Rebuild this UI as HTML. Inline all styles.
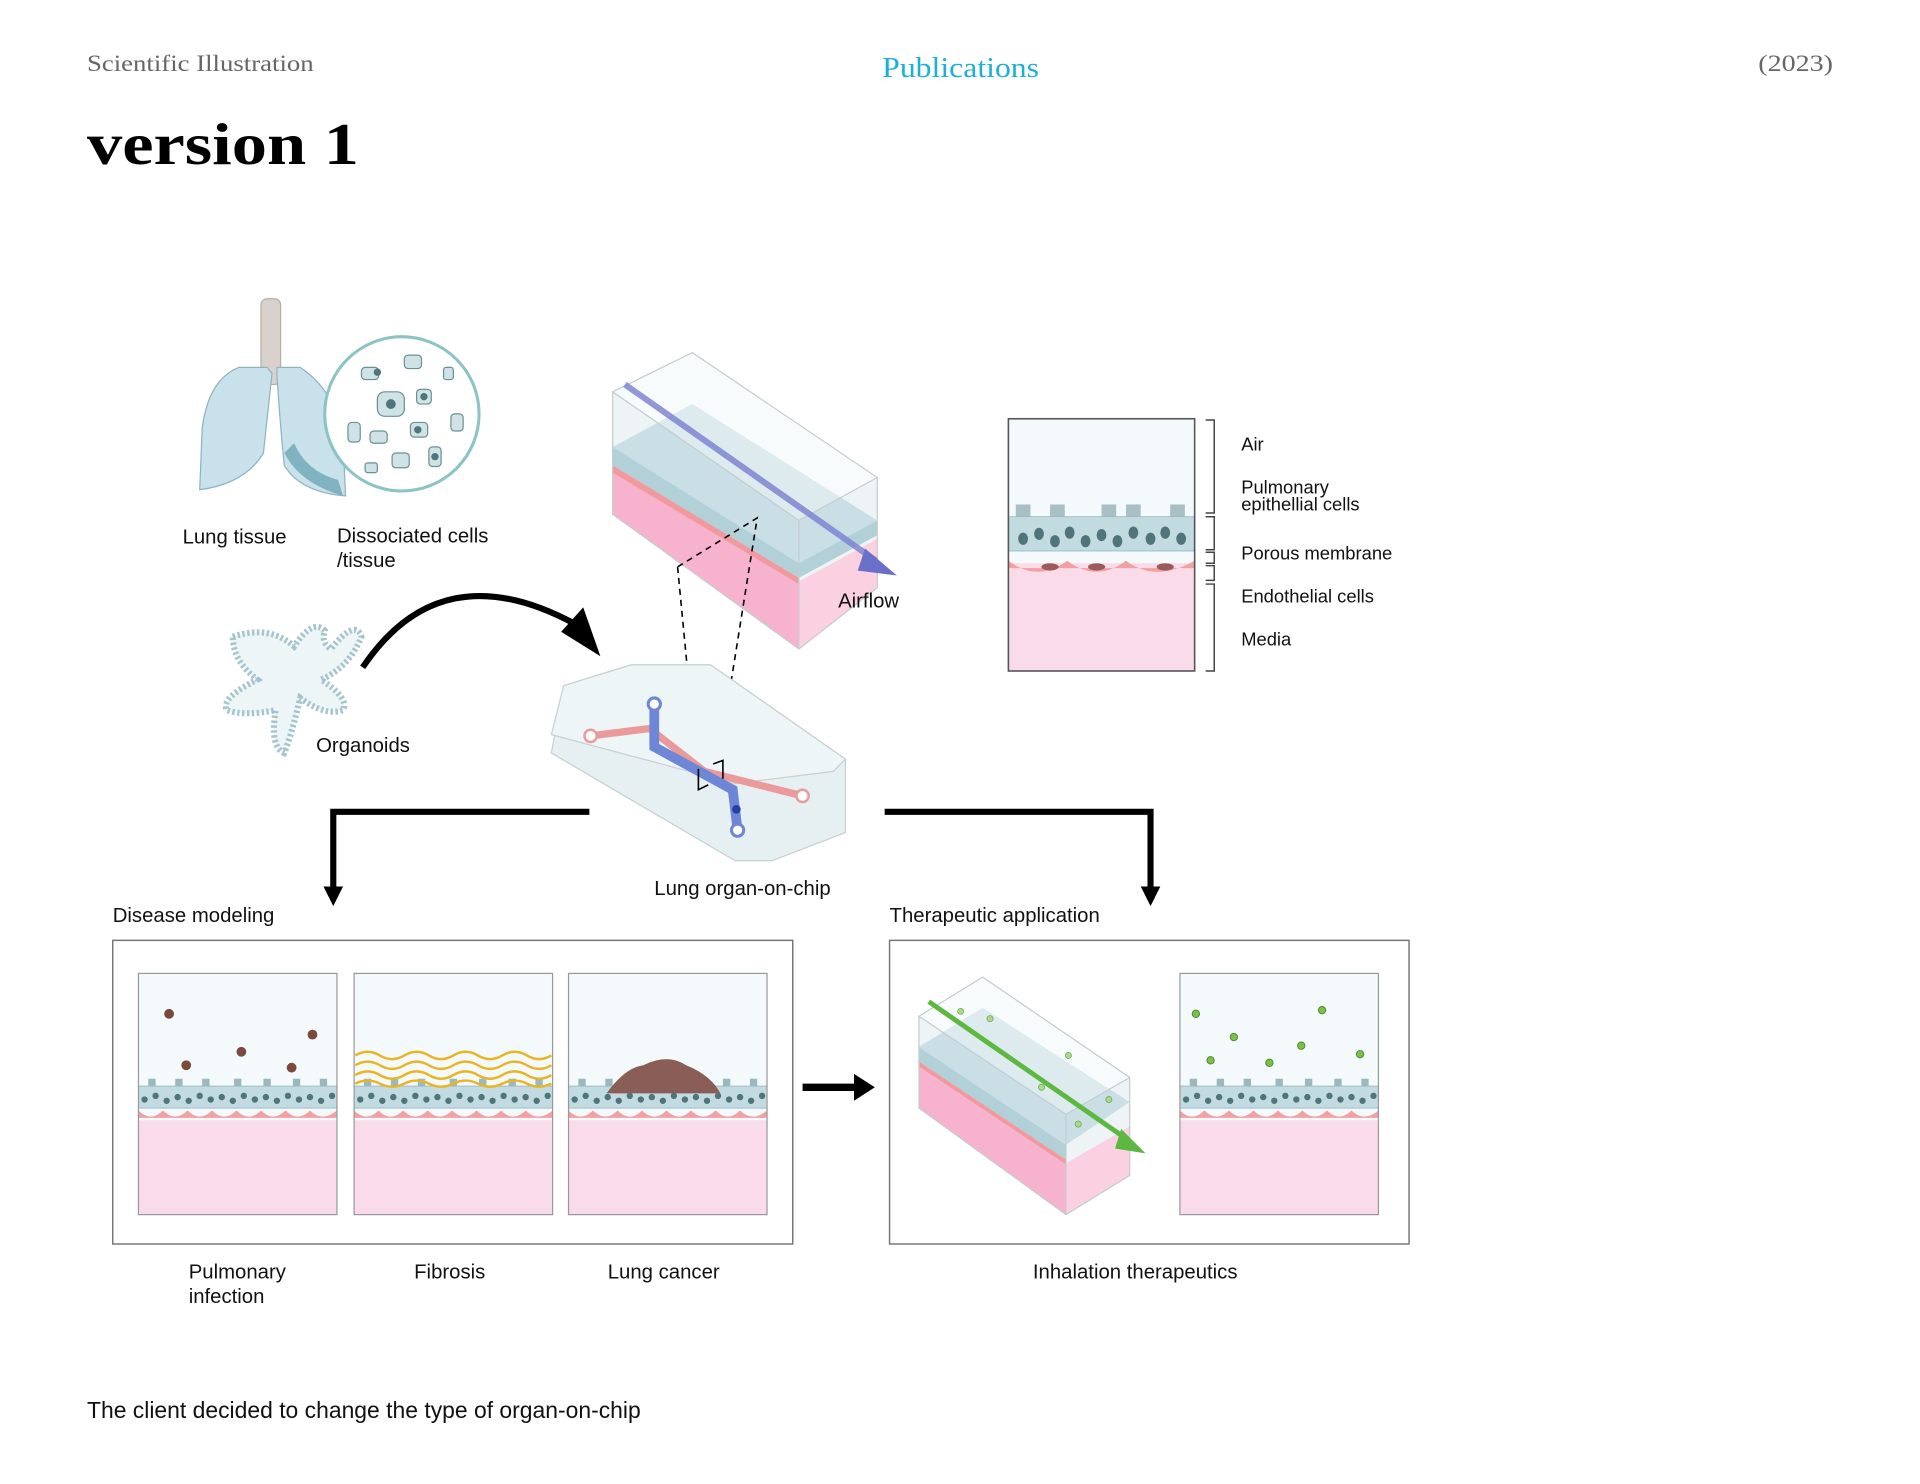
<!DOCTYPE html>
<html><head><meta charset="utf-8"><style>
html,body{margin:0;padding:0;background:#fff;}
svg{display:block;}
text{font-family:"Liberation Sans",sans-serif;fill:#111;}
.s{font-family:"Liberation Serif",serif;}
</style></head><body>
<svg width="1920" height="1484" viewBox="0 0 1567 1212" preserveAspectRatio="none" xmlns="http://www.w3.org/2000/svg">
<defs>
<g id="tis">
  <rect x="0" y="0" width="162" height="197" fill="#f4f9fb"/>
  <rect x="0" y="120" width="162" height="77" fill="#f9dbe9"/>
  <path d="M0 112 q10 10 20 0 q10 10 20 0 q10 10 20 0 q10 10 20 0 q10 10 20 0 q10 10 20 0 q10 10 20 0 q10 10 22 0 v6 h-162z" fill="#f2a0a2"/>
  <rect x="0" y="92" width="162" height="18" fill="#c2dbe1" stroke="#8fb0b8" stroke-width="0.6"/>
  <g fill="#4f7479">
    <circle cx="5" cy="103" r="2.6"/><circle cx="14" cy="100" r="2.6"/><circle cx="23" cy="104" r="2.6"/><circle cx="32" cy="101" r="2.6"/><circle cx="41" cy="104" r="2.6"/><circle cx="50" cy="100" r="2.6"/><circle cx="59" cy="103" r="2.6"/><circle cx="68" cy="101" r="2.6"/><circle cx="77" cy="104" r="2.6"/><circle cx="86" cy="100" r="2.6"/><circle cx="95" cy="103" r="2.6"/><circle cx="104" cy="101" r="2.6"/><circle cx="113" cy="104" r="2.6"/><circle cx="122" cy="100" r="2.6"/><circle cx="131" cy="103" r="2.6"/><circle cx="140" cy="101" r="2.6"/><circle cx="149" cy="104" r="2.6"/><circle cx="158" cy="100" r="2.6"/>
  </g>
  <g fill="#9bb8be"><rect x="8" y="86" width="6" height="6"/><rect x="30" y="86" width="6" height="6"/><rect x="52" y="86" width="6" height="6"/><rect x="78" y="86" width="6" height="6"/><rect x="102" y="86" width="6" height="6"/><rect x="126" y="86" width="6" height="6"/><rect x="148" y="86" width="6" height="6"/></g>
  <rect x="0" y="0" width="162" height="197" fill="none" stroke="#999" stroke-width="1"/>
</g>
</defs>

<!-- header -->
<text x="71" y="58" class="s" font-size="19" textLength="185" lengthAdjust="spacingAndGlyphs" style="fill:#666">Scientific Illustration</text>
<text x="720" y="63" class="s" font-size="23" textLength="128" lengthAdjust="spacingAndGlyphs" style="fill:#1ab0d8">Publications</text>
<text x="1435" y="58" class="s" font-size="19" textLength="61" lengthAdjust="spacingAndGlyphs" style="fill:#666">(2023)</text>
<text x="71" y="134" class="s" font-size="48" font-weight="bold" textLength="222" lengthAdjust="spacingAndGlyphs" style="fill:#000">version 1</text>

<!-- lungs -->
<rect x="213" y="244" width="16" height="70" rx="5" fill="#d9d2cc" stroke="#b8aea6"/>
<path d="M218 300 L195 300 Q170 310 165 350 L163 400 Q200 395 215 370 L222 305z" fill="#c8e1ea" stroke="#8fb3bf"/>
<path d="M226 300 L245 300 Q275 320 280 360 L282 405 Q245 402 232 380 Q228 340 226 305z" fill="#c8e1ea" stroke="#8fb3bf"/>
<path d="M232 370 Q245 395 280 405 L276 392 Q250 385 240 362z" fill="#7fb3c2"/>
<circle cx="328" cy="338" r="63" fill="#fff" stroke="#8cc3c3" stroke-width="2.5"/>
<g fill="#cfe2e6" stroke="#6d9096"><rect x="295" y="300" width="14" height="10" rx="3"/><rect x="330" y="290" width="14" height="11" rx="3"/><rect x="308" y="320" width="22" height="20" rx="6"/><rect x="340" y="318" width="12" height="12" rx="3"/><rect x="284" y="345" width="10" height="16" rx="3"/><rect x="302" y="352" width="14" height="10" rx="3"/><rect x="335" y="345" width="14" height="12" rx="3"/><rect x="350" y="365" width="10" height="16" rx="3"/><rect x="320" y="370" width="14" height="12" rx="3"/><rect x="362" y="300" width="8" height="10" rx="2"/><rect x="368" y="338" width="10" height="14" rx="3"/><rect x="298" y="378" width="10" height="8" rx="2"/></g>
<g fill="#4f7479"><circle cx="319" cy="330" r="4"/><circle cx="308" cy="304" r="3"/><circle cx="346" cy="324" r="3"/><circle cx="341" cy="351" r="3"/><circle cx="355" cy="373" r="3"/></g>
<text x="149" y="444" font-size="16.6">Lung tissue</text>
<text x="275" y="443" font-size="16.6">Dissociated cells</text>
<text x="275" y="463" font-size="16.6">/tissue</text>

<!-- organoid -->
<path d="M190 520 Q220 510 240 528 Q255 505 265 515 Q262 525 270 530 Q290 505 295 520 Q285 545 262 555 Q285 570 280 580 Q265 585 245 570 Q238 600 232 615 Q220 610 225 580 Q200 585 185 580 Q180 570 210 555 Q190 540 190 520z" fill="#eef5f7" stroke="#a4c5cf" stroke-width="5" stroke-dasharray="2 2"/>
<text x="258" y="614" font-size="16.6">Organoids</text>
<path d="M296 545 Q360 450 470 510" fill="none" stroke="#000" stroke-width="5"/>
<path d="M476 496 L490 536 L458 516z" fill="#000"/>

<!-- 3d block -->
<polygon points="500,320 652,425 652,530 500,420" fill="#eef4f6"/>
<polygon points="500,385 652,475 652,530 500,420" fill="#f7b3cd"/>
<polygon points="652,425 716,390 716,480 652,530" fill="#eef4f6"/>
<polygon points="652,475 716,440 716,480 652,530" fill="#fbd0e0"/>
<polygon points="500,365 565,330 716,425 652,460" fill="#c9dfe5"/>
<polygon points="500,365 652,460 652,472 500,380" fill="#b2d0d8"/>
<polygon points="500,380 652,472 652,477 500,386" fill="#f09a9e"/>
<polygon points="652,460 716,425 716,437 652,472" fill="#b2d0d8"/>
<polygon points="500,320 565,288 716,390 652,425" fill="#f2f7f8" opacity="0.5"/>
<polygon points="500,320 565,288 716,390 716,480 652,530 500,420" fill="none" stroke="#c4ccd0"/>
<line x1="500" y1="320" x2="652" y2="425" stroke="#c4ccd0"/><line x1="652" y1="425" x2="716" y2="390" stroke="#c4ccd0"/><line x1="652" y1="425" x2="652" y2="530" stroke="#c4ccd0"/>
<line x1="510" y1="314" x2="715" y2="458" stroke="#7a7fd0" stroke-width="5" opacity="0.8"/>
<polygon points="706,448 732,470 700,466" fill="#6a70c8"/>
<text x="684" y="496" font-size="16.6">Airflow</text>
<path d="M553 463 L570 640 M553 463 L618 423 L585 630" fill="none" stroke="#000" stroke-dasharray="5 4" stroke-width="1.3"/>

<!-- chip -->
<polygon points="460,560 515,543 580,543 690,620 690,680 630,703 600,703 450,615" fill="#e4eff1" stroke="#c0cace" opacity="0.9"/>
<polygon points="460,560 515,543 580,543 690,620 680,630 600,640 450,600" fill="#eef5f6" stroke="#c8d0d3"/>
<path d="M482 601 L530 595 L575 630 L655 650" stroke="#ea9a9a" stroke-width="6" fill="none"/>
<circle cx="482" cy="601" r="5" fill="#fff" stroke="#ea9a9a" stroke-width="2"/><circle cx="655" cy="650" r="5" fill="#fff" stroke="#ea9a9a" stroke-width="2"/>
<path d="M534 575 L534 610 L598 645 L602 678" stroke="#6d87d6" stroke-width="8" fill="none"/>
<circle cx="534" cy="575" r="5" fill="#fff" stroke="#6d87d6" stroke-width="2.5"/><circle cx="602" cy="678" r="5" fill="#fff" stroke="#6d87d6" stroke-width="2.5"/>
<circle cx="601" cy="661" r="3.5" fill="#2440a8"/>
<path d="M570 628 L570 645 L578 641 M582 624 L590 621 L590 636" stroke="#000" fill="none" stroke-width="1.3"/>
<text x="534" y="731" font-size="16.6">Lung organ-on-chip</text>

<!-- right cross-section -->
<g transform="translate(823,342)">
 <rect x="0" y="0" width="152" height="206" fill="#f4f9fb"/>
 <rect x="0" y="118" width="152" height="88" fill="#f9dbe9"/>
 <path d="M0 116 q24 18 48 0 q24 18 48 0 q24 18 56 0 v6 h-152z" fill="#f2a0a2"/>
 <ellipse cx="34" cy="121" rx="7" ry="3" fill="#9a5a5e"/><ellipse cx="72" cy="121" rx="7" ry="3" fill="#9a5a5e"/><ellipse cx="128" cy="121" rx="7" ry="3" fill="#9a5a5e"/>
 <rect x="0" y="80" width="152" height="28" fill="#c2dbe1" stroke="#8fb0b8" stroke-width="0.6"/>
 <g fill="#4f7479"><ellipse cx="12" cy="98" rx="4" ry="5"/><ellipse cx="25" cy="94" rx="4" ry="5"/><ellipse cx="38" cy="100" rx="4" ry="5"/><ellipse cx="50" cy="93" rx="4" ry="5"/><ellipse cx="63" cy="100" rx="4" ry="5"/><ellipse cx="76" cy="95" rx="4" ry="5"/><ellipse cx="89" cy="100" rx="4" ry="5"/><ellipse cx="102" cy="93" rx="4" ry="5"/><ellipse cx="116" cy="98" rx="4" ry="5"/><ellipse cx="128" cy="93" rx="4" ry="5"/><ellipse cx="141" cy="98" rx="4" ry="5"/></g>
 <g fill="#a8c0c5"><rect x="6" y="70" width="12" height="10"/><rect x="34" y="70" width="12" height="10"/><rect x="76" y="70" width="12" height="10"/><rect x="96" y="70" width="12" height="10"/><rect x="132" y="70" width="12" height="10"/></g>
 <rect x="0" y="0" width="152" height="206" fill="none" stroke="#555" stroke-width="1.3"/>
</g>
<path d="M984 343 H991 V419 H984 M984 422 H991 V449 H984 M984 451 H991 V460 H984 M984 462 H991 V474 H984 M984 477 H991 V548 H984" fill="none" stroke="#444" stroke-width="1.2"/>
<text x="1013" y="368" font-size="15">Air</text>
<text x="1013" y="403" font-size="15">Pulmonary</text>
<text x="1013" y="417" font-size="15">epithellial cells</text>
<text x="1013" y="457" font-size="15">Porous membrane</text>
<text x="1013" y="492" font-size="15">Endothelial cells</text>
<text x="1013" y="527" font-size="15">Media</text>

<!-- connectors -->
<path d="M481 663 H272 V726" fill="none" stroke="#000" stroke-width="5"/>
<polygon points="264,724 280,724 272,740" fill="#000"/>
<path d="M722 663 H939 V726" fill="none" stroke="#000" stroke-width="5"/>
<polygon points="931,724 947,724 939,740" fill="#000"/>

<!-- disease modeling -->
<text x="92" y="753" font-size="16.6">Disease modeling</text>
<rect x="92" y="768" width="555" height="248" fill="#fff" stroke="#777" stroke-width="1.2"/>
<use href="#tis" x="113" y="795"/><use href="#tis" x="289" y="795"/><use href="#tis" x="464" y="795"/>
<g fill="#7a4a3e"><circle cx="138" cy="828" r="4"/><circle cx="197" cy="859" r="4"/><circle cx="255" cy="845" r="4"/><circle cx="152" cy="870" r="4"/><circle cx="238" cy="872" r="4"/></g>
<g stroke="#e9b520" stroke-width="2" fill="none"><path d="M290 862 q10 -6 20 0 t20 0 t20 0 t20 0 t20 0 t20 0 t20 0 t20 0"/><path d="M290 870 q10 -6 20 0 t20 0 t20 0 t20 0 t20 0 t20 0 t20 0 t20 0"/><path d="M290 878 q10 -6 20 0 t20 0 t20 0 t20 0 t20 0 t20 0 t20 0 t20 0"/><path d="M290 885 q10 -5 20 0 t20 0 t20 0 t20 0 t20 0 t20 0 t20 0 t20 0"/></g>
<path d="M495 893 Q510 872 525 870 Q545 860 560 870 Q580 878 588 893z" fill="#8a5d57"/>
<polygon points="655,885 697,885 697,877 714,888 697,899 697,891 655,891" fill="#000"/>
<text x="154" y="1044" font-size="16.6">Pulmonary</text>
<text x="154" y="1064" font-size="16.6">infection</text>
<text x="338" y="1044" font-size="16.6">Fibrosis</text>
<text x="496" y="1044" font-size="16.6">Lung cancer</text>

<!-- therapeutic -->
<text x="726" y="753" font-size="16.6">Therapeutic application</text>
<rect x="726" y="768" width="424" height="248" fill="#fff" stroke="#777" stroke-width="1.2"/>
<polygon points="750,830 870,910 870,992 750,905" fill="#eef4f6"/>
<polygon points="750,870 870,950 870,992 750,905" fill="#f7b3cd"/>
<polygon points="870,910 922,880 922,960 870,992" fill="#eef4f6"/>
<polygon points="870,950 922,920 922,960 870,992" fill="#fbd0e0"/>
<polygon points="750,855 802,823 922,900 870,935" fill="#c9dfe5"/>
<polygon points="750,855 870,935 870,947 750,867" fill="#b2d0d8"/>
<polygon points="750,867 870,947 870,951 750,871" fill="#f09a9e"/>
<polygon points="750,830 802,798 922,880 870,910" fill="#f2f7f8" opacity="0.5"/>
<polygon points="750,830 802,798 922,880 922,960 870,992 750,905" fill="none" stroke="#c4ccd0"/>
<line x1="750" y1="830" x2="870" y2="910" stroke="#c4ccd0"/><line x1="870" y1="910" x2="870" y2="992" stroke="#c4ccd0"/><line x1="870" y1="910" x2="922" y2="880" stroke="#c4ccd0"/>
<g fill="#a9d98a" stroke="#6aa84a" stroke-width="0.6"><circle cx="784" cy="826" r="2.5"/><circle cx="808" cy="832" r="2.5"/><circle cx="872" cy="862" r="2.5"/><circle cx="850" cy="888" r="2.5"/><circle cx="905" cy="898" r="2.5"/><circle cx="880" cy="918" r="2.5"/></g>
<line x1="758" y1="818" x2="922" y2="932" stroke="#5cb840" stroke-width="4"/>
<polygon points="915,922 935,942 910,938" fill="#5cb840"/>
<use href="#tis" x="963" y="795"/>
<g fill="#7bc04a" stroke="#4a8a2a" stroke-width="0.8"><circle cx="976" cy="828" r="3"/><circle cx="1079" cy="825" r="3"/><circle cx="1007" cy="847" r="3"/><circle cx="1062" cy="854" r="3"/><circle cx="988" cy="866" r="3"/><circle cx="1036" cy="868" r="3"/><circle cx="1110" cy="861" r="3"/></g>
<text x="843" y="1044" font-size="16.6">Inhalation therapeutics</text>

<text x="71" y="1158" font-size="18.7">The client decided to change the type of organ-on-chip</text>
</svg>
</body></html>
